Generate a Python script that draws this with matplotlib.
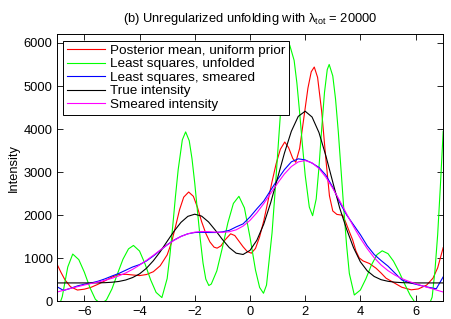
import numpy as np
import matplotlib
matplotlib.use("Agg")
import matplotlib.pyplot as plt

plt.rcParams["font.family"] = ["Liberation Sans", "DejaVu Sans"]
plt.rcParams["mathtext.fontset"] = "custom"
plt.rcParams["mathtext.rm"] = "Liberation Sans"
plt.rcParams["mathtext.it"] = "Liberation Sans:italic"

# values
grid_x = np.linspace(-7, 7, 57)  # sampling positions, step 0.25

true_intensity = [430, 430, 430, 430, 430, 430, 432, 436, 446, 464, 498, 555,
                  640, 770, 945, 1155, 1395, 1630, 1835, 1975, 2025, 1980, 1845,
                  1650, 1440, 1250, 1120, 1090, 1185, 1420, 1795, 2290, 2865,
                  3445, 3950, 4295, 4415, 4280, 3920, 3380, 2770, 2170, 1680,
                  1250, 920, 710, 580, 505, 468, 447, 437, 432, 430, 430, 430,
                  430, 430]

smeared_intensity = [216, 260, 303, 343, 381, 417, 452, 492, 537, 594, 662, 745,
                     843, 953, 1071, 1193, 1312, 1418, 1506, 1570, 1608, 1623,
                     1620, 1609, 1604, 1618, 1662, 1749, 1881, 2058, 2272, 2507,
                     2744, 2960, 3131, 3239, 3270, 3217, 3085, 2883, 2627, 2338,
                     2035, 1740, 1466, 1224, 1016, 847, 715, 612, 531, 467, 412,
                     362, 314, 266, 219]

ls_smeared = [345, 255, 305, 360, 400, 430, 470, 525, 590, 650, 725, 800, 855,
              940, 1055, 1185, 1315, 1425, 1510, 1570, 1600, 1605, 1600, 1600,
              1615, 1650, 1730, 1800, 1960, 2150, 2330, 2580, 2830, 3060, 3240,
              3310, 3285, 3210, 3110, 2930, 2650, 2300, 2010, 1780, 1550, 1290,
              1090, 950, 820, 660, 500, 440, 400, 360, 325, 295, 570]

post_x = [-7, -6.85, -6.7, -6.5, -6.25, -6.0, -5.75, -5.5, -5.25, -5.0, -4.75,
          -4.5, -4.25, -4.0, -3.75, -3.5, -3.25, -3.0, -2.85, -2.7, -2.55, -2.4,
          -2.22, -2.05, -1.9, -1.75, -1.6, -1.45, -1.3, -1.19, -1.05, -0.9, -0.7,
          -0.55, -0.4, -0.25, -0.1, 0.05, 0.2, 0.35, 0.5, 0.65, 0.8, 0.95, 1.1,
          1.26, 1.4, 1.55, 1.66, 1.8, 1.95, 2.1, 2.22, 2.33, 2.45, 2.6, 2.75,
          2.88, 3.0, 3.15, 3.36, 3.48, 3.6, 3.72, 3.84, 3.96, 4.1, 4.33, 4.57,
          4.75, 4.93, 5.2, 5.5, 5.84, 6.1, 6.4, 6.63, 6.8, 7.0]
post_mean = [880, 680, 500, 340, 265, 285, 330, 400, 480, 565, 625, 630, 615,
             600, 625, 690, 830, 1080, 1350, 1730, 2130, 2420, 2540, 2440, 2180,
             1850, 1580, 1380, 1260, 1237, 1290, 1430, 1570, 1530, 1400, 1270,
             1160, 1120, 1230, 1500, 1870, 2320, 2780, 3200, 3530, 3700, 3570,
             3320, 3230, 3550, 4250, 4950, 5330, 5440, 5200, 4400, 3300, 2450,
             2100, 2020, 2000, 1820, 1620, 1430, 1170, 1010, 940, 880, 770, 660,
             540, 440, 330, 270, 290, 380, 540, 780, 1250]

ls_x = [-7, -6.8, -6.6, -6.42, -6.2, -6.0, -5.8, -5.6, -5.4, -5.2, -5.0, -4.8,
        -4.6, -4.4, -4.22, -4.0, -3.8, -3.6, -3.4, -3.19, -3.0, -2.9, -2.8,
        -2.7, -2.6, -2.45, -2.33, -2.2, -2.1, -2.0, -1.9, -1.8, -1.7, -1.6,
        -1.49, -1.4, -1.2, -1.0, -0.8, -0.6, -0.4, -0.2, 0.0, 0.2, 0.35, 0.49,
        0.6, 0.8, 0.9, 1.0, 1.1, 1.2, 1.32, 1.44, 1.6, 1.7, 1.8, 1.9, 2.0,
        2.15, 2.27, 2.4, 2.5, 2.6, 2.7, 2.8, 2.87, 3.0, 3.1, 3.2, 3.3, 3.4,
        3.5, 3.6, 3.78, 4.0, 4.2, 4.4, 4.6, 4.79, 5.0, 5.2, 5.4, 5.6, 5.8,
        6.0, 6.26, 6.5, 6.6, 6.7, 6.8, 6.9, 7.0]
ls_unfolded = [-250, 110, 800, 1100, 970, 680, 325, 50, -60, 35, 290, 640, 980,
               1220, 1300, 1170, 870, 505, 210, 90, 530, 1070, 1730, 2430, 3060,
               3750, 3935, 3730, 3315, 2745, 2085, 1445, 890, 520, 370, 405, 710,
               1245, 1825, 2275, 2440, 2170, 1495, 730, 325, 190, 380, 1590,
               2460, 3400, 4320, 5085, 5725, 5950, 5595, 5070, 4380, 3635, 2935,
               2190, 1990, 2380, 3110, 4020, 4850, 5380, 5500, 5235, 4700, 3940,
               3050, 2140, 1310, 650, 150, 265, 527, 845, 1085, 1175, 1110, 935,
               690, 410, 150, -45, -145, -60, 100, 700, 1550, 2700, 3950]

fig = plt.figure(figsize=(4.52, 3.19), dpi=100)
ax = fig.add_axes([0.1255, 0.055, 0.855, 0.8375])

lw = 0.8
ax.plot(post_x, post_mean, color="#ff0000", lw=lw, label="Posterior mean, uniform prior")
ax.plot(ls_x, ls_unfolded, color="#00ff00", lw=lw, label="Least squares, unfolded")
ax.plot(grid_x, ls_smeared, color="#0000ff", lw=lw, label="Least squares, smeared")
ax.plot(grid_x, true_intensity, color="black", lw=lw, label="True intensity")
ax.plot(grid_x, smeared_intensity, color="#ff00ff", lw=lw, label="Smeared intensity")

ax.set_xlim(-7, 7)
ax.set_ylim(0, 6200)
ax.set_xticks([-6, -4, -2, 0, 2, 4, 6])
ax.set_yticks([0, 1000, 2000, 3000, 4000, 5000, 6000])
ax.tick_params(direction="in", top=True, right=True, labelsize=9.3, length=4, width=0.6, pad=3)
for s in ax.spines.values():
    s.set_linewidth(0.7)

ax.set_ylabel("Intensity", fontsize=9.3, labelpad=3)
ax.set_title("(b) Unregularized unfolding with λ$_{\\mathrm{tot}}$ = 20000", fontsize=9.3, pad=9)

leg = ax.legend(loc="upper left", bbox_to_anchor=(0.016, 0.976), borderaxespad=0,
                fontsize=9.7, handlelength=2.82, handletextpad=0.4, labelspacing=0.08,
                borderpad=0.28, fancybox=False, framealpha=1, edgecolor="black")
leg.get_frame().set_linewidth(0.7)

fig.savefig("out.png", dpi=100)
